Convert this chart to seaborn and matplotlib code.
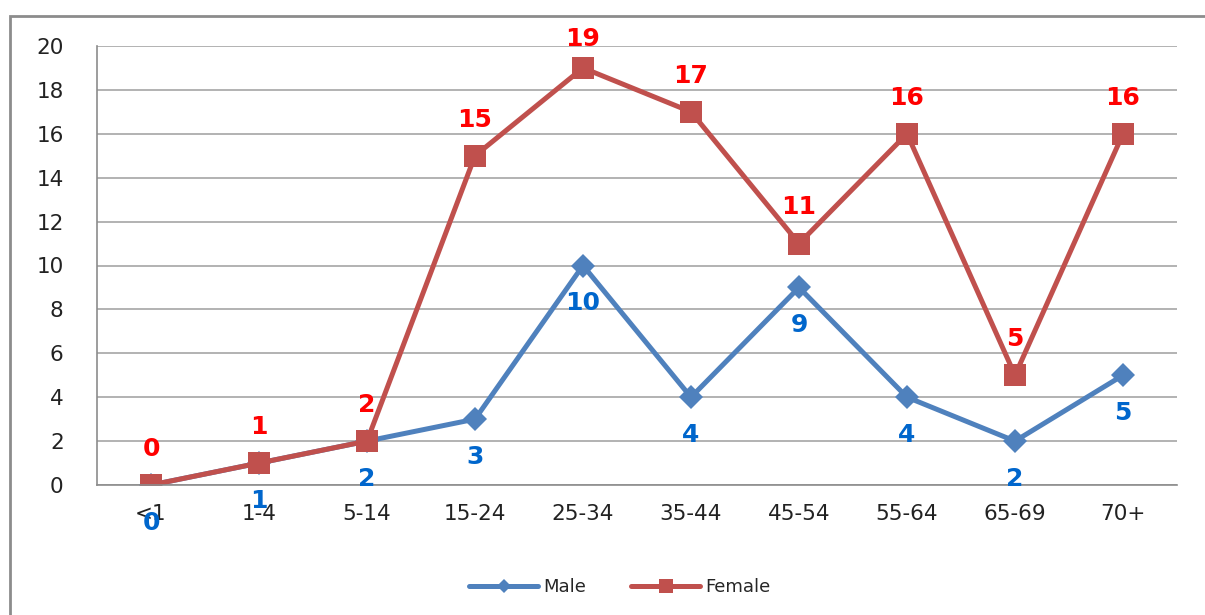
import matplotlib
matplotlib.use("Agg")
import matplotlib.pyplot as plt
import seaborn as sns
import pandas as pd
from matplotlib.patches import Rectangle

ages = ['<1', '1-4', '5-14', '15-24', '25-34', '35-44', '45-54', '55-64', '65-69', '70+']
male = [0, 1, 2, 3, 10, 4, 9, 4, 2, 5]
female = [0, 1, 2, 15, 19, 17, 11, 16, 5, 16]

pos = list(range(len(ages)))
df = pd.concat([
    pd.DataFrame({'pos': pos, 'count': male, 'sex': 'Male'}),
    pd.DataFrame({'pos': pos, 'count': female, 'sex': 'Female'}),
])

sns.set_style('white')
plt.rcParams['font.family'] = ['DejaVu Sans']

fig = plt.figure(figsize=(12.05, 6.15), dpi=100)
ax = fig.add_axes([97 / 1205, 1 - 485 / 615, 1080 / 1205, 439 / 615])

# outer chart frame (cropped on the right/bottom)
fig.patches.append(Rectangle((10 / 1205, -0.1), 1.2, 1 - 16 / 615 + 0.1,
                             transform=fig.transFigure, fill=False,
                             edgecolor='#8c8c8c', linewidth=2, zorder=0))

pal = {'Male': '#4F81BD', 'Female': '#C0504D'}
sns.lineplot(data=df, x='pos', y='count', hue='sex', style='sex',
             palette=pal, markers={'Male': 'D', 'Female': 's'}, dashes=False,
             linewidth=3.6, markersize=16, markeredgewidth=0, ax=ax)

for line in ax.get_lines():
    if line.get_marker() == 'D':
        line.set_markersize(12)

# data labels (female above, male below; keep top label inside plot area)
for i, (m, f) in enumerate(zip(male, female)):
    up = 26 if f <= 17 else 21
    ax.annotate(str(f), (i, f), xytext=(0, up), textcoords='offset points',
                ha='center', va='center', color='#FF0000', fontsize=18, fontweight='bold')
    ax.annotate(str(m), (i, m), xytext=(0, -27), textcoords='offset points',
                ha='center', va='center', color='#0066CC', fontsize=18, fontweight='bold')

ax.set_xlim(-0.5, len(ages) - 0.5)
ax.set_ylim(0, 20)
ax.set_yticks(range(0, 21, 2))
ax.set_xticks(pos)
ax.set_xticklabels(ages)
ax.set_xticks([p - 0.5 for p in range(len(ages) + 1)], minor=True)
ax.tick_params(axis='x', which='major', length=0, pad=14, labelsize=15.5, colors='#222222')
ax.tick_params(axis='x', which='minor', length=9, width=1.2, color='#8c8c8c')
ax.tick_params(axis='y', length=12, width=1.2, color='#8c8c8c', pad=12,
               labelsize=15.5, labelcolor='#222222')
ax.grid(axis='y', color='#a6a6a6', linewidth=1.2)
ax.set_axisbelow(True)
for s in ['top', 'right']:
    ax.spines[s].set_visible(False)
for s in ['left', 'bottom']:
    ax.spines[s].set_color('#8c8c8c')
    ax.spines[s].set_linewidth(1.2)
ax.set_xlabel('')
ax.set_ylabel('')

handles, labels = ax.get_legend_handles_labels()
ax.legend(handles, labels, loc='center', bbox_to_anchor=(620 / 1205, 1 - 587 / 615),
          bbox_transform=fig.transFigure, ncol=2, frameon=False, fontsize=13,
          handlelength=3.8, columnspacing=2.5, handletextpad=0.3, markerscale=0.6)

fig.savefig('out.png', dpi=100)
